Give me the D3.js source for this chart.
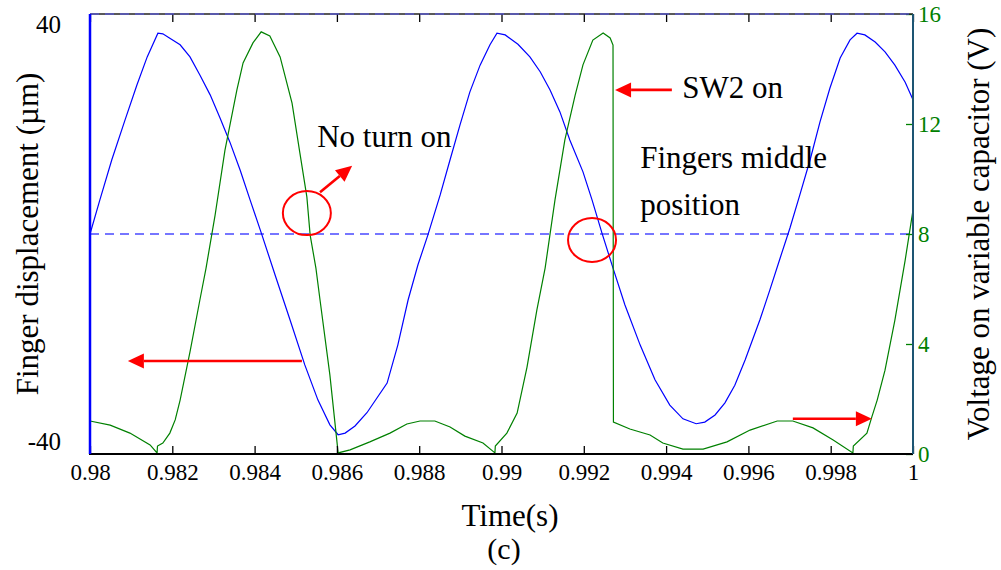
<!DOCTYPE html>
<html>
<head>
<meta charset="utf-8">
<title>Finger displacement and voltage on variable capacitor</title>
<style>
  body { margin: 0; background: #fff; }
  text { font-family: "Liberation Serif", "Times New Roman", serif; }
</style>
</head>
<body>
<!-- Load d3.js -->
<script src="https://d3js.org/d3.v7.min.js"></script>
<div id="chart"></div>
<script>

// finger displacement (left axis, um)
var timeDisp = [0.98000, 0.98024, 0.98053, 0.98085, 0.98114, 0.98139, 0.98165, 0.98177, 0.98194, 0.98219,
  0.98243, 0.98267, 0.98292, 0.98316, 0.98340, 0.98365, 0.98389, 0.98418, 0.98450, 0.98486,
  0.98522, 0.98554, 0.98583, 0.98603, 0.98620, 0.98644, 0.98673, 0.98722, 0.98748, 0.98773,
  0.98797, 0.98821, 0.98851, 0.98875, 0.98899, 0.98923, 0.98948, 0.98972, 0.98989, 0.99009,
  0.99040, 0.99069, 0.99094, 0.99118, 0.99142, 0.99166, 0.99198, 0.99220, 0.99244, 0.99271,
  0.99300, 0.99337, 0.99373, 0.99409, 0.99441, 0.99473, 0.99494, 0.99519, 0.99543, 0.99567,
  0.99592, 0.99628, 0.99652, 0.99677, 0.99701, 0.99725, 0.99750, 0.99774, 0.99798, 0.99823,
  0.99847, 0.99864, 0.99883, 0.99908, 0.99932, 0.99956, 0.99981, 1.00000];
var displacement = [0.0, 6.2, 13.5, 20.7, 27.1, 32.2, 36.5, 36.4, 35.6, 34.4,
  32.2, 28.9, 25.3, 21.1, 16.7, 11.6, 6.2, -0.2, -7.5, -15.6,
  -23.8, -30.2, -34.7, -36.5, -36.2, -34.9, -32.5, -27.1, -20.2, -12.0,
  -5.6, -0.2, 7.1, 13.5, 19.8, 25.8, 30.7, 34.4, 36.5, 36.2,
  34.5, 32.2, 29.5, 26.2, 22.2, 17.1, 11.3, 6.2, 0.2, -6.2,
  -12.9, -20.2, -26.5, -31.1, -33.6, -34.5, -34.2, -32.9, -30.7, -27.5,
  -22.9, -15.6, -10.2, -4.4, 1.1, 7.1, 13.5, 20.4, 26.5, 32.0,
  35.3, 36.5, 36.2, 34.9, 33.1, 30.7, 27.6, 24.4];

// voltage on variable capacitor (right axis, V)
var timeVolt = [0.98000, 0.98049, 0.98097, 0.98146, 0.98163, 0.98164, 0.98177, 0.98194, 0.98207, 0.98219,
  0.98243, 0.98267, 0.98282, 0.98304, 0.98328, 0.98357, 0.98372, 0.98396, 0.98416, 0.98437,
  0.98462, 0.98491, 0.98510, 0.98527, 0.98535, 0.98549, 0.98559, 0.98583, 0.98603, 0.98632,
  0.98680, 0.98729, 0.98770, 0.98802, 0.98838, 0.98875, 0.98911, 0.98955, 0.98984, 0.98985,
  0.99013, 0.99038, 0.99062, 0.99086, 0.99106, 0.99130, 0.99154, 0.99179, 0.99198, 0.99222,
  0.99247, 0.99264, 0.99271, 0.99272, 0.99312, 0.99361, 0.99392, 0.99441, 0.99490, 0.99548,
  0.99604, 0.99670, 0.99708, 0.99757, 0.99806, 0.99854, 0.99855, 0.99888, 0.99900, 0.99913,
  0.99932, 0.99956, 0.99981, 1.00000];
var voltage = [1.20, 1.05, 0.76, 0.33, 0.04, 0.29, 0.40, 0.76, 1.24, 1.96,
  3.71, 5.60, 6.76, 8.69, 11.05, 13.24, 14.22, 14.95, 15.35, 15.20,
  14.44, 12.76, 10.95, 9.35, 7.96, 6.76, 5.60, 2.87, 0.04, 0.15,
  0.44, 0.76, 1.09, 1.20, 1.20, 0.98, 0.65, 0.40, 0.04, 0.29,
  0.76, 1.49, 3.16, 5.24, 6.76, 9.24, 11.42, 13.05, 14.15, 15.05,
  15.31, 15.13, 14.87, 1.16, 0.91, 0.69, 0.40, 0.18, 0.18, 0.44,
  0.87, 1.20, 1.20, 0.95, 0.51, 0.04, 0.29, 0.76, 1.35, 1.96,
  3.05, 4.87, 7.05, 8.87];

var xTicks = [0.98, 0.982, 0.984, 0.986, 0.988, 0.99, 0.992, 0.994, 0.996, 0.998, 1];
var xTickLabels = ["0.98", "0.982", "0.984", "0.986", "0.988", "0.99", "0.992", "0.994", "0.996", "0.998", "1"];
var leftTicks = [-40, 40];
var leftTickLabels = ["-40", "40"];
var rightTicks = [0, 4, 8, 12, 16];
var rightTickLabels = ["0", "4", "8", "12", "16"];

// red annotations, in data units (time, displacement)
var circleMarks = [[0.98527, 3.8], [0.99220, -1.1]];
var arrowMarks = [
  [0.98515, -23.1, 0.98092, -23.1],
  [0.99708, -33.6, 0.99900, -33.6],
  [0.99414, 26.2, 0.99276, 26.2],
  [0.98559, 7.6, 0.98637, 12.4]
];
var noteTexts = ["No turn on", "SW2 on", "Fingers middle", "position"];
var noteTimes = [0.98552, 0.99439, 0.99337, 0.99337];
var noteValues = [15.8, 24.7, 12.0, 3.45];

var width = 1001, height = 570;
var plotL = 90, plotR = 913, plotT = 14, plotB = 454;

var svg = d3.select("#chart").append("svg")
  .attr("width", width)
  .attr("height", height);

var x = d3.scaleLinear().domain([0.98, 1]).range([plotL, plotR]);
var yL = d3.scaleLinear().domain([-40, 40]).range([plotB, plotT]);
var yR = d3.scaleLinear().domain([0, 16]).range([plotB, plotT]);

var blue = "#0000ff", green = "#008000", red = "#ff0000";
var serif = '"Liberation Serif", "Times New Roman", serif';

// middle position dashed line
svg.append("line")
  .attr("x1", x(0.98)).attr("x2", x(1))
  .attr("y1", yL(0)).attr("y2", yL(0))
  .attr("stroke", "#4a4aff").attr("stroke-width", 1.3)
  .attr("stroke-dasharray", "9,6");

// curves
var lineL = d3.line().x(function(d) { return x(d[0]); }).y(function(d) { return yL(d[1]); });
var lineR = d3.line().x(function(d) { return x(d[0]); }).y(function(d) { return yR(d[1]); });

svg.append("path")
  .datum(d3.zip(timeDisp, displacement))
  .attr("d", lineL)
  .attr("fill", "none").attr("stroke", blue).attr("stroke-width", 1.2);

svg.append("path")
  .datum(d3.zip(timeVolt, voltage))
  .attr("d", lineR)
  .attr("fill", "none").attr("stroke", green).attr("stroke-width", 1.2);

// x axis, ticks pointing inward, at bottom and top
var xAxis = svg.append("g")
  .attr("transform", "translate(0," + plotB + ")")
  .call(d3.axisBottom(x).tickValues(xTicks)
    .tickFormat(function(d, i) { return xTickLabels[i]; })
    .tickSizeInner(-8).tickSizeOuter(0).tickPadding(10))
  .attr("font-family", serif);
xAxis.select(".domain").remove();
xAxis.selectAll("line").attr("stroke", "#000").attr("stroke-width", 1.3);
xAxis.selectAll("text").attr("font-size", 23).attr("fill", "#000");

var xTop = svg.append("g")
  .attr("transform", "translate(0," + plotT + ")")
  .call(d3.axisTop(x).tickValues(xTicks).tickFormat("").tickSizeInner(-8).tickSizeOuter(0));
xTop.select(".domain").remove();
xTop.selectAll("line").attr("stroke", "#000").attr("stroke-width", 1.3);

// right axis (voltage)
var yAxisR = svg.append("g")
  .attr("transform", "translate(" + plotR + ",0)")
  .call(d3.axisRight(yR).tickValues(rightTicks)
    .tickFormat(function(d, i) { return rightTickLabels[i]; })
    .tickSizeInner(-7).tickSizeOuter(0).tickPadding(5))
  .attr("font-family", serif);
yAxisR.select(".domain").remove();
yAxisR.selectAll("line").attr("stroke", green).attr("stroke-width", 1.3);
yAxisR.selectAll("text").attr("font-size", 23).attr("fill", green);

// left axis labels (sit slightly inside the limits, as in the original)
svg.selectAll(".ltick")
  .data(leftTicks)
  .enter().append("text")
  .attr("class", "ltick")
  .attr("x", 61)
  .attr("y", function(d) { return yL(d) + (d > 0 ? 10 : -13); })
  .attr("dy", "0.35em")
  .attr("text-anchor", "end")
  .attr("font-size", 25)
  .text(function(d, i) { return leftTickLabels[i]; });

// frame
svg.append("line").attr("x1", plotL).attr("x2", plotR).attr("y1", plotT).attr("y2", plotT)
  .attr("stroke", "#222").attr("stroke-width", 1.5);
svg.append("line").attr("x1", plotL).attr("x2", plotR).attr("y1", plotT).attr("y2", plotT)
  .attr("stroke", "#5a5aff").attr("stroke-width", 1.2).attr("stroke-dasharray", "9,6");
svg.append("line").attr("x1", plotL - 1).attr("x2", plotR).attr("y1", plotB).attr("y2", plotB)
  .attr("stroke", "#000").attr("stroke-width", 2);
svg.append("line").attr("x1", plotR).attr("x2", plotR).attr("y1", plotT).attr("y2", plotB)
  .attr("stroke", "#1d5573").attr("stroke-width", 2);
svg.append("line").attr("x1", plotL).attr("x2", plotL).attr("y1", plotT).attr("y2", plotB)
  .attr("stroke", blue).attr("stroke-width", 2.5);

// red circles
svg.selectAll(".ring")
  .data(circleMarks)
  .enter().append("ellipse")
  .attr("class", "ring")
  .attr("cx", function(d) { return x(d[0]); })
  .attr("cy", function(d) { return yL(d[1]); })
  .attr("rx", 24).attr("ry", 22)
  .attr("fill", "none").attr("stroke", red).attr("stroke-width", 2);

// red arrows
arrowMarks.forEach(function(a) {
  var x1 = x(a[0]), y1 = yL(a[1]), x2 = x(a[2]), y2 = yL(a[3]);
  var ang = Math.atan2(y2 - y1, x2 - x1);
  var len = 16, hw = 7.5;
  var bx = x2 - len * Math.cos(ang), by = y2 - len * Math.sin(ang);
  svg.append("line")
    .attr("x1", x1).attr("y1", y1).attr("x2", bx).attr("y2", by)
    .attr("stroke", red).attr("stroke-width", 2.6);
  svg.append("path")
    .attr("d", "M" + x2 + "," + y2 +
      "L" + (bx + hw * Math.sin(ang)) + "," + (by - hw * Math.cos(ang)) +
      "L" + (bx - hw * Math.sin(ang)) + "," + (by + hw * Math.cos(ang)) + "Z")
    .attr("fill", red);
});

// notes
svg.selectAll(".note")
  .data(noteTexts)
  .enter().append("text")
  .attr("class", "note")
  .attr("x", function(d, i) { return x(noteTimes[i]); })
  .attr("y", function(d, i) { return yL(noteValues[i]); })
  .attr("font-size", 31)
  .text(function(d) { return d; });

// axis titles
svg.append("text")
  .attr("x", 510).attr("y", 526)
  .attr("text-anchor", "middle").attr("font-size", 31)
  .text("Time(s)");
svg.append("text")
  .attr("x", 504).attr("y", 559)
  .attr("text-anchor", "middle").attr("font-size", 30)
  .text("(c)");
svg.append("text")
  .attr("transform", "translate(38," + yL(0) + ") rotate(-90)")
  .attr("text-anchor", "middle").attr("font-size", 31)
  .text("Finger displacement (\u00b5m)");
svg.append("text")
  .attr("transform", "translate(989," + yL(0) + ") rotate(-90)")
  .attr("text-anchor", "middle").attr("font-size", 31)
  .text("Voltage on variable capacitor (V)");

</script>
</body>
</html>
